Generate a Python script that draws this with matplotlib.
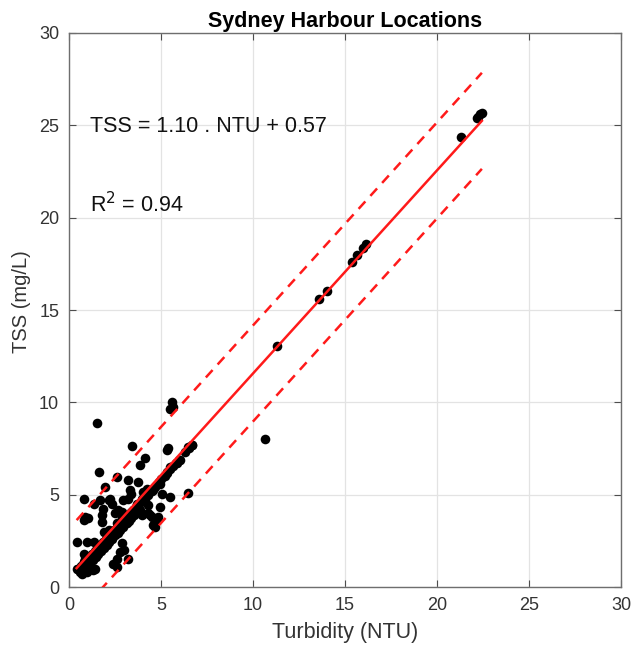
import matplotlib
matplotlib.use("Agg")
import matplotlib.pyplot as plt
import numpy as np

plt.rcParams['font.family'] = ['Liberation Sans', 'DejaVu Sans']

# Turbidity (NTU) and TSS (mg/L) samples
turbidity = [
    # main band along the regression
    0.5, 0.65, 0.8, 0.95, 1.1, 1.25, 1.4, 1.55, 1.7, 1.85, 2.0, 2.15, 2.3,
    2.45, 2.6, 2.75, 2.9, 3.05, 3.2, 3.35, 3.5, 3.65, 3.8, 3.95, 4.1,
    0.7, 0.85, 1.0, 1.15, 1.3, 1.45, 1.6, 1.75, 1.9, 2.05, 2.2, 2.35, 2.5,
    2.65, 2.8, 2.95, 3.1, 3.25, 3.4, 3.55, 3.7,
    4.3, 4.5, 4.7, 4.9, 5.0, 5.2, 5.35, 5.5, 5.65, 5.8, 6.0, 6.3, 6.5, 6.7,
    # scattered samples
    1.52, 5.58, 5.67, 5.49, 3.42, 10.65, 11.3, 13.59, 14.0, 15.36, 15.67,
    15.96, 16.14, 21.3, 22.16, 22.24, 22.34, 22.43,
    5.31, 5.4, 6.48, 6.67, 4.13, 3.86, 1.65, 5.85, 6.03, 5.49, 5.31, 2.59,
    3.22, 3.77, 1.96, 4.95, 4.58, 5.04, 5.49, 4.95, 3.32, 3.4, 4.22, 4.04,
    3.95, 4.13, 6.48, 0.82, 2.23, 2.95, 1.34, 1.7, 2.16, 2.34, 1.87, 1.78,
    1.78, 0.87, 1.05, 0.8, 2.68, 2.5, 2.86, 2.59, 3.68, 3.86, 3.95, 4.31,
    4.49, 4.76, 4.58, 4.31, 4.4, 4.85, 4.67, 3.68, 3.59, 3.13, 3.22, 3.06,
    3.24, 2.88, 1.89, 2.16, 2.34, 0.42, 0.98, 1.34, 0.8, 0.89, 0.8, 2.23,
    2.86, 2.77, 2.59, 2.41, 2.59, 2.97, 3.22, 1.32, 0.42, 0.61, 0.69, 0.96,
    1.07, 1.43, 0.8,
]
tss = [
    1.0, 1.15, 1.35, 1.5, 1.65, 1.8, 1.95, 2.1, 2.3, 2.45, 2.6, 2.75, 2.95,
    3.1, 3.25, 3.4, 3.55, 3.75, 3.9, 4.05, 4.2, 4.35, 4.5, 4.7, 4.85,
    0.85, 1.0, 1.15, 1.3, 1.5, 1.65, 1.8, 1.95, 2.1, 2.3, 2.45, 2.6, 2.8,
    2.95, 3.1, 3.25, 3.45, 3.6, 3.75, 3.9, 4.05,
    5.0, 5.2, 5.45, 5.7, 5.85, 6.0, 6.2, 6.4, 6.55, 6.7, 6.9, 7.3, 7.55, 7.7,
    8.88, 10.03, 9.76, 9.67, 7.63, 8.0, 13.05, 15.58, 16.03, 17.61, 17.97,
    18.34, 18.55, 24.38, 25.37, 25.46, 25.59, 25.68,
    7.42, 7.51, 7.6, 7.69, 6.97, 6.6, 6.24, 6.7, 6.88, 6.51, 6.24, 5.97,
    5.83, 5.7, 5.4, 5.61, 5.25, 5.07, 4.89, 4.35, 5.25, 5.07, 5.34, 5.16,
    4.8, 4.71, 5.1, 4.8, 4.75, 4.71, 4.53, 4.71, 4.71, 4.53, 4.26, 3.9,
    3.54, 3.81, 3.72, 3.63, 4.17, 3.99, 3.72, 3.45, 4.53, 4.17, 3.9, 3.99,
    3.81, 3.63, 3.36, 4.44, 3.9, 3.81, 3.27, 4.35, 3.99, 3.45, 4.8, 3.45,
    3.81, 4.08, 2.99, 3.09, 2.82, 2.45, 2.45, 2.45, 1.82, 1.55, 1.37, 2.64,
    2.37, 1.91, 1.55, 1.28, 1.1, 2.0, 1.55, 0.92, 1.01, 0.83, 0.74, 0.83,
    1.01, 1.01, 0.92,
]

slope, intercept, r2 = 1.10, 0.57, 0.94
band = 2.6
fit_range = [0.42, 22.43]

fig = plt.figure(figsize=(6.32, 6.46), dpi=100)
ax = fig.add_axes([0.109, 0.091, 0.874, 0.858])

ax.scatter(turbidity, tss, s=48, c='black', zorder=3, linewidths=0)

xf = np.array(fit_range)
yf = slope * xf + intercept
ax.plot(xf, yf, color='#ff1a1a', lw=1.8, zorder=4)
ax.plot(xf, yf + band, color='#ff1a1a', lw=1.8, ls=(0, (4, 3)), zorder=4)
ax.plot(xf, yf - band, color='#ff1a1a', lw=1.8, ls=(0, (4, 3)), zorder=4)

ax.set_xlim(0, 30)
ax.set_ylim(0, 30)
ticks = [0, 5, 10, 15, 20, 25, 30]
ax.set_xticks(ticks)
ax.set_yticks(ticks)
ax.grid(True, color='#e3e3e3', lw=0.9)
ax.set_axisbelow(True)
ax.tick_params(direction='in', top=True, right=True, length=5,
               color='#4d4d4d', labelcolor='#333333', labelsize=13, pad=7)
for sp in ax.spines.values():
    sp.set_color('#6e6e6e')
    sp.set_linewidth(1.0)

ax.set_xlabel('Turbidity (NTU)', fontsize=15.5, color='#333333', labelpad=6)
ax.set_ylabel('TSS (mg/L)', fontsize=14.5, color='#333333')
ax.yaxis.set_label_coords(-0.068, 0.515)
ax.set_title('Sydney Harbour Locations', fontsize=15.5, fontweight='bold', pad=4)

ax.text(1.14, 24.95, f'TSS = {slope:.2f} . NTU + {intercept:.2f}', fontsize=15.5,
        va='center', ha='left', color='#111111')
ax.text(1.14, 20.7, f'R$^2$ = {r2:.2f}', fontsize=15.5, va='center', ha='left',
        color='#111111')

fig.savefig('out.png', dpi=100)
